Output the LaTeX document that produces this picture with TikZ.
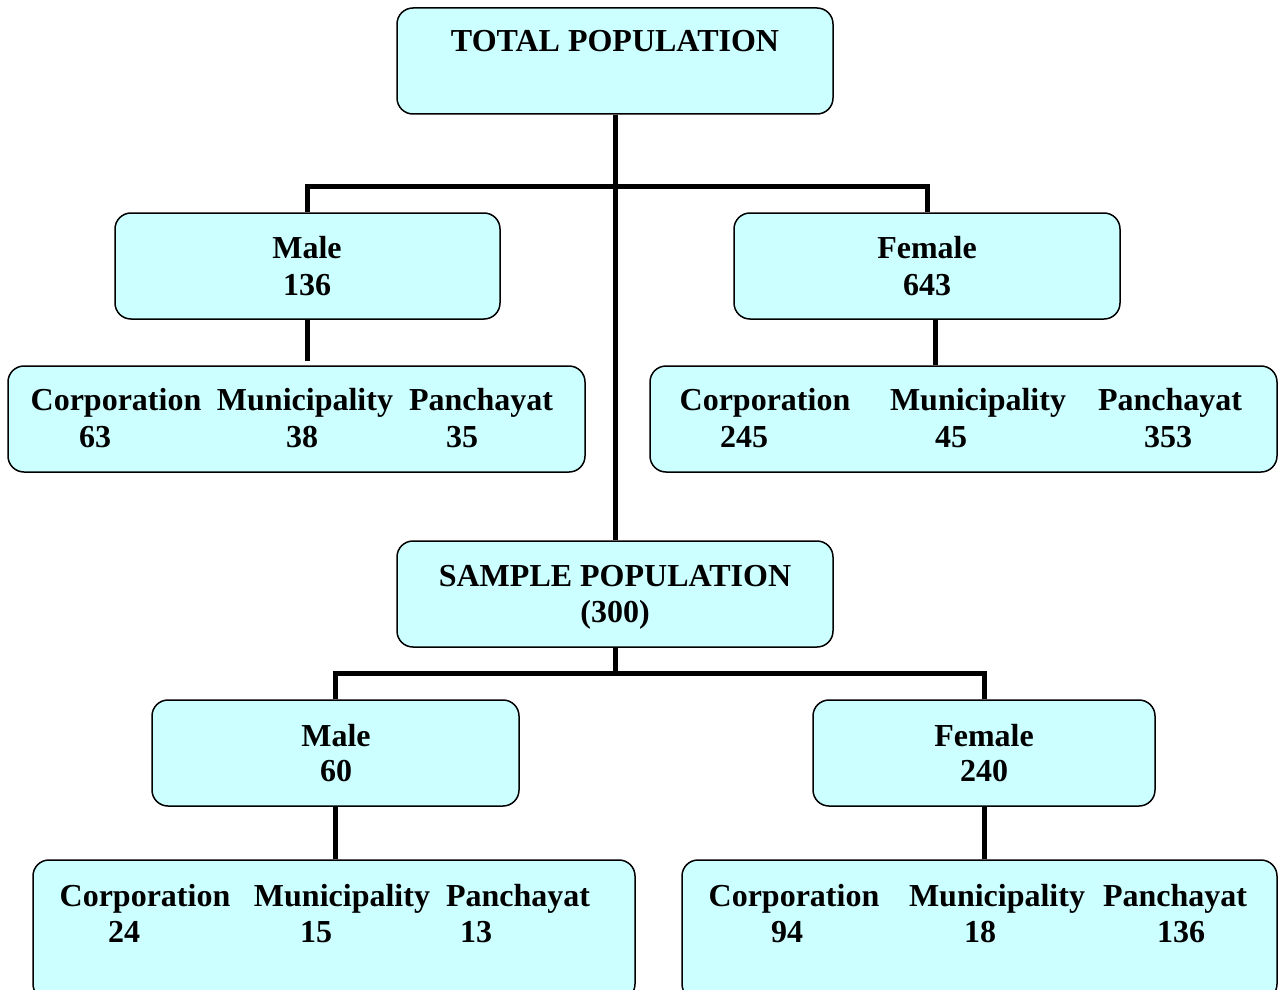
\documentclass[tikz,border=0pt]{standalone}
\usepackage{fontspec}
\setmainfont{Liberation Serif}
\usepackage{xcolor}
\definecolor{popcyan}{HTML}{CCFFFF}

\begin{document}
\begin{tikzpicture}[x=0.5pt,y=-0.5pt]
    \tikzstyle{pbox}=[draw,fill=popcyan,rounded corners=8pt,line width=0.75pt,inner sep=0pt]
    \tikzstyle{plabel}=[anchor=base,inner sep=0pt,font=\bfseries\fontsize{16}{18.5}\selectfont]
    \tikzstyle{link}=[line width=2.5pt]
    \clip (0,0) rectangle (1279,990);
    % boxes
    \node[pbox,minimum width=218pt,minimum height=53pt] (total) at (615,61) {};
    \node[pbox,minimum width=192.5pt,minimum height=53pt] (male) at (307.5,266) {};
    \node[pbox,minimum width=193pt,minimum height=53pt] (female) at (927,266) {};
    \node[pbox,minimum width=288.5pt,minimum height=53pt] (msub) at (296.5,419) {};
    \node[pbox,minimum width=313.5pt,minimum height=53pt] (fsub) at (963.5,419) {};
    \node[pbox,minimum width=218pt,minimum height=53pt] (sample) at (615,594) {};
    \node[pbox,minimum width=183.5pt,minimum height=53pt] (male2) at (335.5,753) {};
    \node[pbox,minimum width=171pt,minimum height=53pt] (female2) at (984,753) {};
    \node[pbox,minimum width=301pt,minimum height=70pt] (msub2) at (334,930) {};
    \node[pbox,minimum width=297.5pt,minimum height=70pt] (fsub2) at (979.5,930) {};
    % links
    \coordinate (branch1) at (615,186);
    \coordinate (branch2) at (615,673);
    \draw[link] (total.south) -- (sample.north);
    \draw[link] (male.north) |- (branch1) -| (female.north);
    \draw[link] (male.south) -- ++(0,41);
    \draw[link] ([xshift=4pt]female.south) -- ([xshift=4pt]female.south |- fsub.north);
    \draw[link] (sample.south) -- (branch2);
    \draw[link] (male2.north) |- (branch2) -| (female2.north);
    \draw[link] (male2.south) -- (male2.south |- msub2.north);
    \draw[link] (female2.south) -- (female2.south |- fsub2.north);
    % texts
    \node[plabel] (totalT) at (615,52) {TOTAL POPULATION};
    \node[plabel] (maleT) at (307,258) {Male};
    \node[plabel] (maleN) at (307,295) {136};
    \node[plabel] (femaleT) at (927,258) {Female};
    \node[plabel] (femaleN) at (927,295) {643};
    \node[plabel] (mcorp) at (116,410) {Corporation};
    \node[plabel] (mcorpN) at (95,447) {63};
    \node[plabel] (mmun) at (305,410) {Municipality};
    \node[plabel] (mmunN) at (302,447) {38};
    \node[plabel] (mpan) at (481,410) {Panchayat};
    \node[plabel] (mpanN) at (462,447) {35};
    \node[plabel] (fcorp) at (765,410) {Corporation};
    \node[plabel] (fcorpN) at (744,447) {245};
    \node[plabel] (fmun) at (978,410) {Municipality};
    \node[plabel] (fmunN) at (951,447) {45};
    \node[plabel] (fpan) at (1170,410) {Panchayat};
    \node[plabel] (fpanN) at (1168,447) {353};
    \node[plabel] (sampleT) at (615,586) {SAMPLE POPULATION};
    \node[plabel] (sampleN) at (615,622) {(300)};
    \node[plabel] (male2T) at (336,746) {Male};
    \node[plabel] (male2N) at (336,781) {60};
    \node[plabel] (female2T) at (984,746) {Female};
    \node[plabel] (female2N) at (984,781) {240};
    \node[plabel] (mcorp2) at (145,906) {Corporation};
    \node[plabel] (mcorp2N) at (124,942) {24};
    \node[plabel] (mmun2) at (342,906) {Municipality};
    \node[plabel] (mmun2N) at (316,942) {15};
    \node[plabel] (mpan2) at (518,906) {Panchayat};
    \node[plabel] (mpan2N) at (476,942) {13};
    \node[plabel] (fcorp2) at (794,906) {Corporation};
    \node[plabel] (fcorp2N) at (787,942) {94};
    \node[plabel] (fmun2) at (997,906) {Municipality};
    \node[plabel] (fmun2N) at (980,942) {18};
    \node[plabel] (fpan2) at (1175,906) {Panchayat};
    \node[plabel] (fpan2N) at (1181,942) {136};
\end{tikzpicture}
\end{document}
